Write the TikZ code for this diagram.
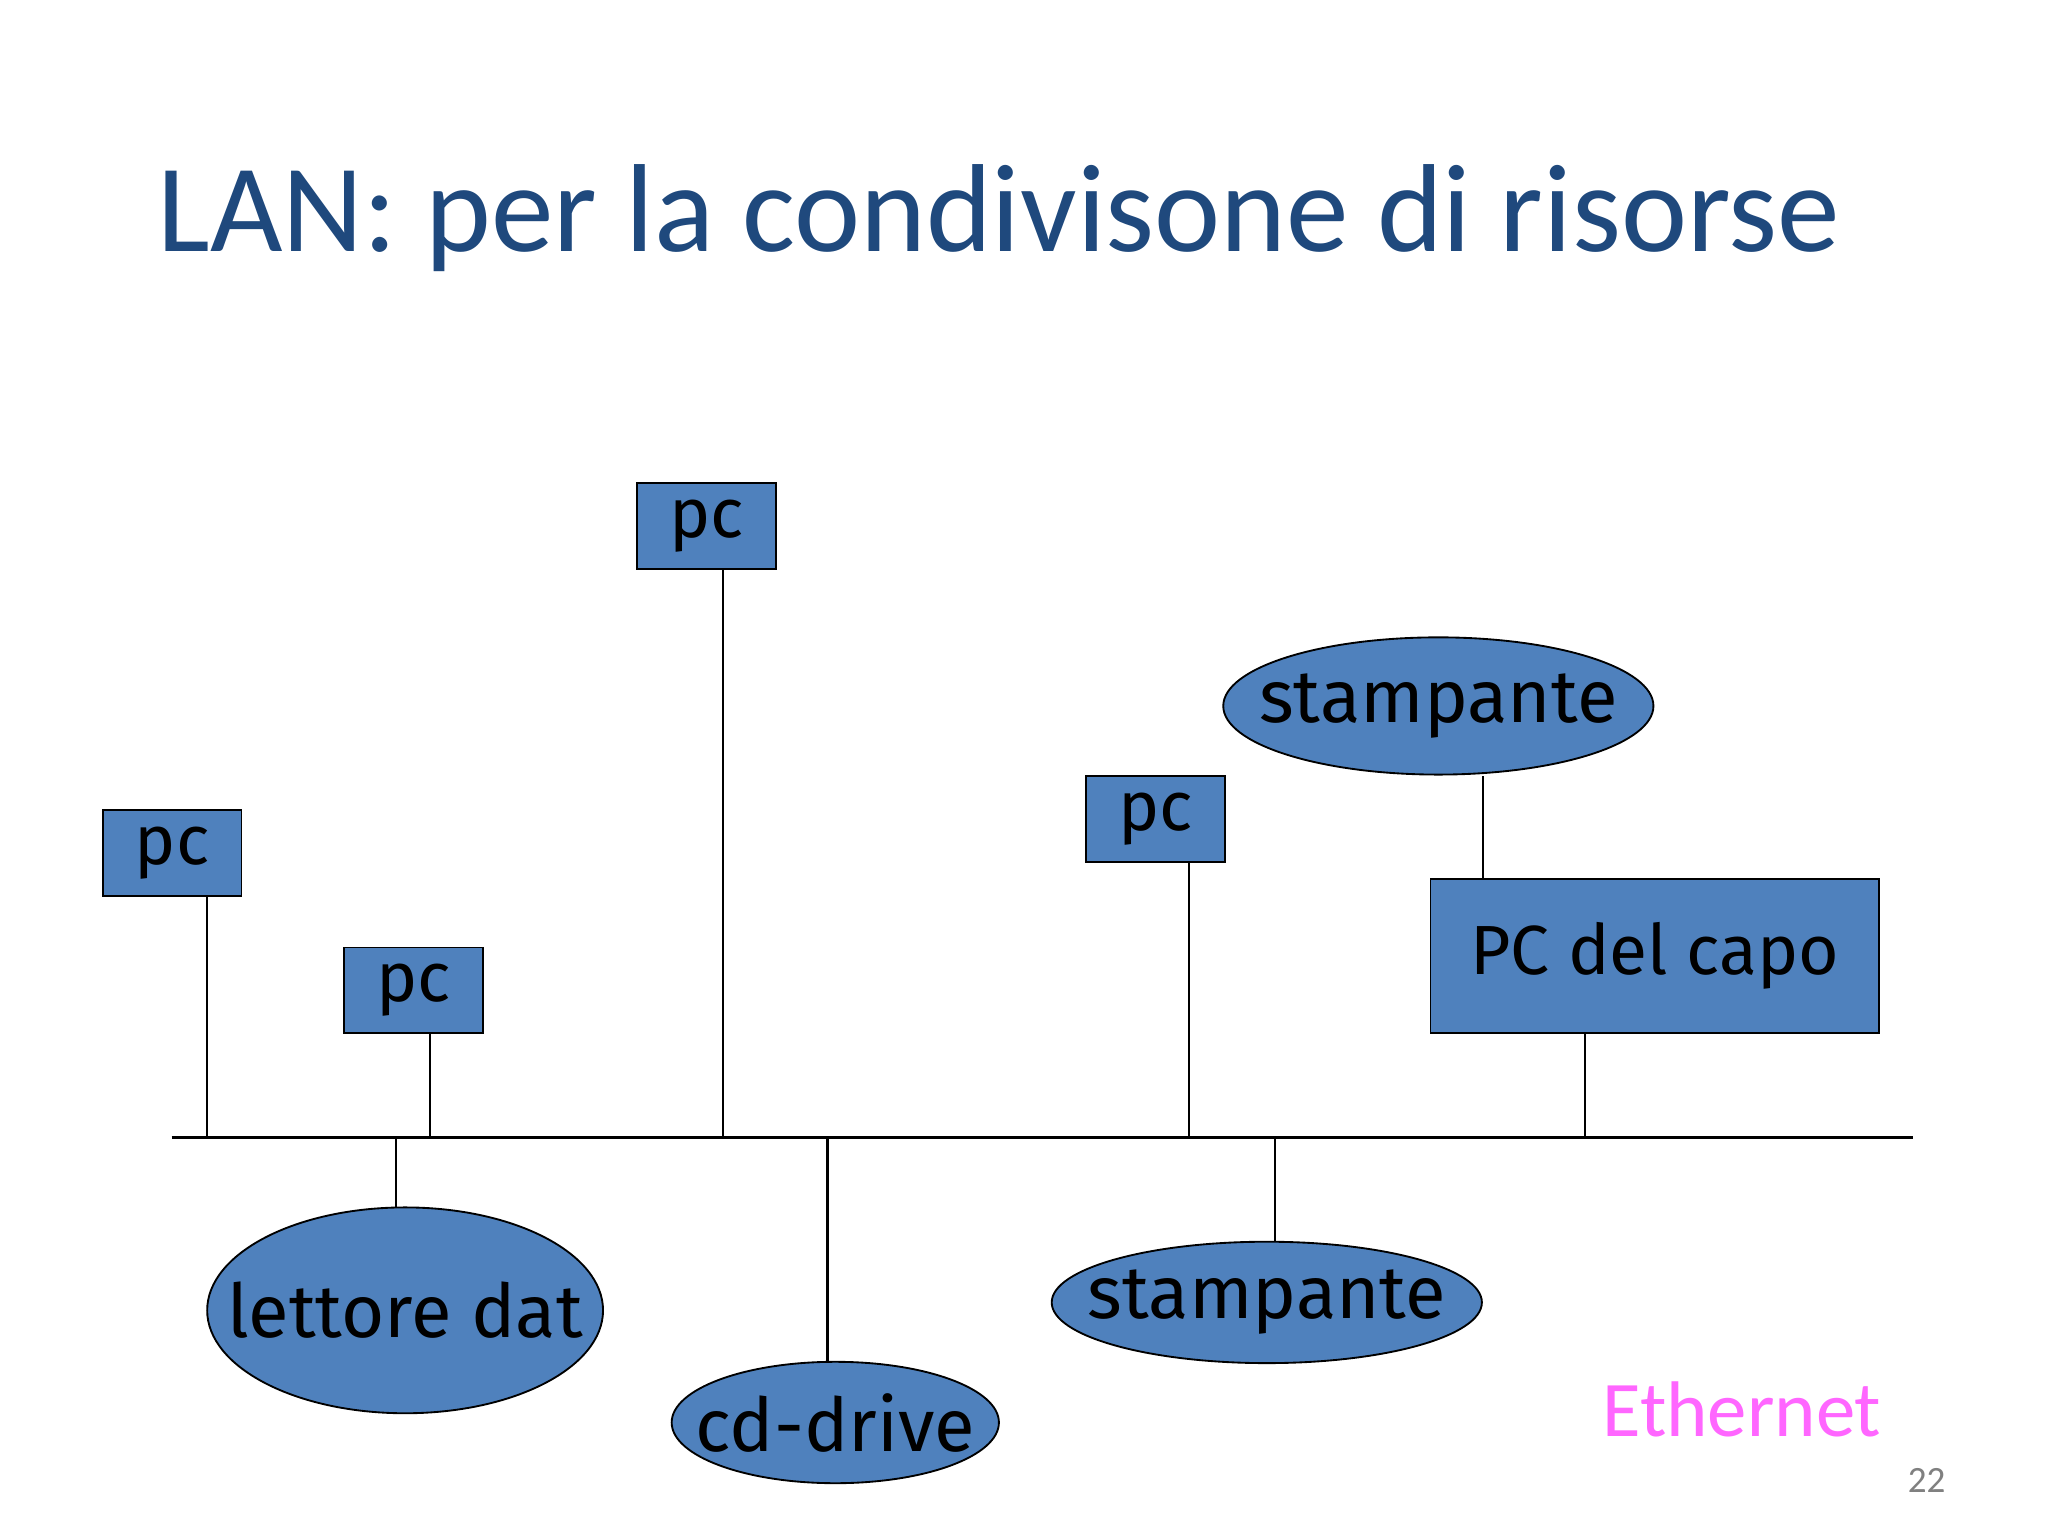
\documentclass[tikz,border=0pt]{standalone}
\usepackage{fontspec}
\setmainfont{Carlito}
\newfontfamily\boxfont{Fira Sans}
\definecolor{titleblue}{RGB}{31,73,125}
\definecolor{boxblue}{RGB}{79,129,189}
\definecolor{ethmag}{RGB}{255,102,255}
\begin{document}
\begin{tikzpicture}[
  pcbox/.style={draw=black,fill=boxblue,minimum width=1.05cm,minimum height=0.65cm,inner sep=0pt,font=\boxfont\fontsize{15}{18}\selectfont},
  restext/.style={inner sep=0pt,font=\boxfont\fontsize{16}{19}\selectfont},
  resshape/.style={draw=black,fill=boxblue},
  wire/.style={draw=black,line width=0.5pt}]
\useasboundingbox[fill=white] (0,0) rectangle (15.52,-11.64);
\node[text=titleblue,font=\fontsize{27}{32}\selectfont] (title) at (7.57,-1.65) {LAN: per la condivisone di risorse};
\coordinate (busL) at (1.30,-8.62);
\coordinate (busR) at (14.50,-8.62);
\draw[wire] (busL) -- (busR);
\node[pcbox] (pc1) at (1.305,-6.465) {pc};
\node[pcbox] (pc2) at (3.135,-7.505) {pc};
\node[pcbox] (pc3) at (5.355,-3.985) {pc};
\node[pcbox] (pc4) at (8.755,-6.205) {pc};
\node[pcbox,minimum width=3.40cm,minimum height=1.17cm] (capo) at (12.54,-7.245) {PC del capo};
\path[resshape] (10.90,-5.35) ellipse [x radius=1.63, y radius=0.52];
\node[restext] (st1) at (10.90,-5.35) {stampante};
\path[resshape] (3.07,-9.93) ellipse [x radius=1.50, y radius=0.78];
\node[restext] (dat) at (3.07,-9.93) {lettore dat};
\path[resshape] (6.33,-10.78) ellipse [x radius=1.24, y radius=0.46];
\node[restext] (cd) at (6.33,-10.78) {cd-drive};
\path[resshape] (9.60,-9.87) ellipse [x radius=1.63, y radius=0.46];
\node[restext] (st2) at (9.60,-9.87) {stampante};
\coordinate (b1) at (1.57,-8.62);
\coordinate (b2) at (3.26,-8.62);
\coordinate (b3) at (5.48,-8.62);
\coordinate (b4) at (9.01,-8.62);
\coordinate (b5) at (12.01,-8.62);
\coordinate (b6) at (3.00,-8.62);
\coordinate (b7) at (6.27,-8.62);
\coordinate (b8) at (9.66,-8.62);
\coordinate (e6) at (3.00,-9.15);
\coordinate (e7) at (6.27,-10.32);
\coordinate (e8) at (9.66,-9.41);
\coordinate (e9) at (11.24,-5.88);
\draw[wire] (b1) -- (b1 |- pc1.south);
\draw[wire] (b2) -- (b2 |- pc2.south);
\draw[wire] (b3) -- (b3 |- pc3.south);
\draw[wire] (b4) -- (b4 |- pc4.south);
\draw[wire] (b5) -- (b5 |- capo.south);
\draw[wire] (b6) -- (e6);
\draw[wire] (b7) -- (e7);
\draw[wire] (b8) -- (e8);
\draw[wire] (e9 |- capo.north) -- (e9);
\node[text=ethmag,font=\fontsize{17}{20}\selectfont] (eth) at (13.20,-10.68) {Ethernet};
\node[text=gray,font=\fontsize{8}{10}\selectfont] (num) at (14.60,-11.22) {22};
\end{tikzpicture}
\end{document}
